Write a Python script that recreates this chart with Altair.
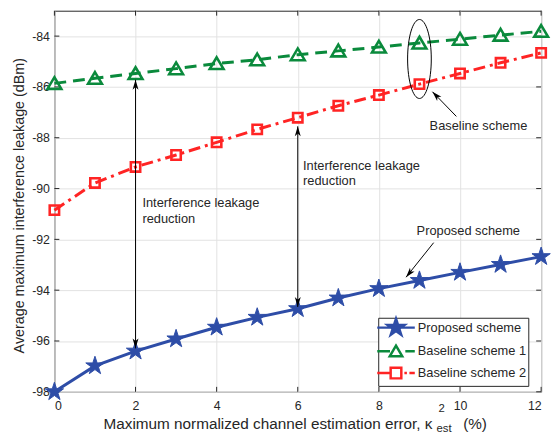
import math
import altair as alt
import pandas as pd

# ---------------- data ----------------
x_vals = list(range(13))
proposed = [-98.0, -96.98, -96.40, -95.92, -95.46, -95.07, -94.73, -94.31, -93.94, -93.62, -93.30, -92.99, -92.68]
baseline1 = [-85.86, -85.66, -85.47, -85.28, -85.08, -84.93, -84.73, -84.58, -84.43, -84.27, -84.12, -83.96, -83.81]
baseline2 = [-90.85, -89.78, -89.15, -88.68, -88.18, -87.67, -87.21, -86.74, -86.32, -85.89, -85.47, -85.05, -84.66]
names = ["Proposed scheme", "Baseline scheme 1", "Baseline scheme 2"]

x_ticks = [0, 2, 4, 6, 8, 10, 12]
y_ticks = [-98, -96, -94, -92, -90, -88, -86, -84]

ann_text = ["Interference leakage", "reduction", "Interference leakage", "reduction",
            "Baseline scheme", "Proposed scheme"]
ann_x = [2.17, 2.17, 6.13, 6.13, 9.25, 8.93]
ann_y = [-90.58, -91.20, -89.10, -89.72, -87.55, -91.67]

arrow_x = [2, 6, 9.91, 9.35]
arrow_y = [-85.72, -87.55, -87.16, -92.13]
arrow_x2 = [2, 6, 9.32, 8.67]
arrow_y2 = [-96.29, -94.66, -86.19, -93.49]

head_x = [2, 2, 6, 6, 9.32, 8.67]
head_y = [-85.72, -96.29, -87.55, -94.66, -86.19, -93.49]
head_angle = [0, 180, 0, 180, 316, 219]

ellipse_x = [9]
ellipse_y = [-84.9]

# ---------------- style ----------------
FONT = "Liberation Sans"
TXT = "#262626"
BLUE = "#2E4DA7"
GREEN = "#0A8A3C"
RED = "#FF2424"


def star_path(cx, r):
    pts = []
    for k in range(10):
        ang = math.radians(-90 + 36 * k)
        rad = r if k % 2 == 0 else r * 0.382
        pts.append((cx + rad * math.cos(ang), rad * math.sin(ang)))
    return "M" + "L".join(f"{px:.3f},{py:.3f}" for px, py in pts) + "Z"


def tri_path(cx, r):
    return f"M{cx:.3f},{-0.9 * r:.3f}L{cx + r:.3f},{0.8 * r:.3f}L{cx - r:.3f},{0.8 * r:.3f}Z"


def sq_path(cx, h):
    return f"M{cx - h:.3f},{-h:.3f}H{cx + h:.3f}V{h:.3f}H{cx - h:.3f}Z"


legend_paths = [
    "M-1.73,0H4.26" + star_path(1.26, 1.42),
    "M-1.73,0H0.3" + tri_path(1.26, 1.0) + "M2.75,0H4.26",
    "M-1.73,0H0.4" + sq_path(1.26, 0.85) + "M2.6,0H3.0M3.4,0H4.26",
]
ARROW = "M0,0L0.45,1.5L0,1.1L-0.45,1.5Z"
ELLIPSE = "M0,-1A0.3,1 0 1,1 0,1A0.3,1 0 1,1 0,-1Z"

# ---------------- tables ----------------
df = pd.DataFrame({
    "x": x_vals * 3,
    "y": proposed + baseline1 + baseline2,
    "series": [names[0]] * 13 + [names[1]] * 13 + [names[2]] * 13,
})
ann_df = pd.DataFrame({"t": ann_text, "x": ann_x, "y": ann_y})
arr_df = pd.DataFrame({"x": arrow_x, "y": arrow_y, "x2": arrow_x2, "y2": arrow_y2})
head_df = pd.DataFrame({"x": head_x, "y": head_y, "a": head_angle})
ell_df = pd.DataFrame({"x": ellipse_x, "y": ellipse_y})

tx = 5 / 41.08
ty = 5 / 25.73
ytick_df = pd.DataFrame(
    [{"x": 0, "x2": tx, "y": v} for v in y_ticks] + [{"x": 12 - tx, "x2": 12, "y": v} for v in y_ticks])
xtick_df = pd.DataFrame(
    [{"x": v, "y": -98, "y2": -98 + ty} for v in x_ticks] + [{"x": v, "y": -83 - ty, "y2": -83} for v in x_ticks])

xs = alt.Scale(domain=[0, 12], nice=False)
ys = alt.Scale(domain=[-98, -83], nice=False, zero=False)

X = alt.X("x:Q", scale=xs, axis=alt.Axis(values=x_ticks, title=None, grid=True, ticks=False, tickSize=0,
                                          domain=False, labelPadding=8, labelExpr="'' + datum.value"))
Y = alt.Y("y:Q", scale=ys, axis=alt.Axis(values=y_ticks, title="Average maximum interference leakage (dBm)",
                                          grid=True, ticks=False, tickSize=0, domain=False, labelPadding=5,
                                          titlePadding=5, titleFontSize=14.5, titleFont=FONT,
                                          titleFontWeight="normal", titleColor=TXT, titleY=197,
                                          labelExpr="'' + datum.value"))

base = alt.Chart(df)

green_line = base.transform_filter(alt.datum.series == names[1]).mark_line(
    color=GREEN, strokeWidth=3, strokeDash=[12, 7]).encode(x=X, y=Y)
red_line = base.transform_filter(alt.datum.series == names[2]).mark_line(
    color=RED, strokeWidth=3, strokeDash=[12, 5, 3, 5]).encode(x=X, y=Y)
blue_line = base.transform_filter(alt.datum.series == names[0]).mark_line(
    color=BLUE, strokeWidth=3).encode(x=X, y=Y)

green_pts = base.transform_filter(alt.datum.series == names[1]).mark_point(
    shape=tri_path(0, 1), size=196, filled=False, stroke=GREEN, strokeWidth=2.6, opacity=1).encode(x=X, y=Y)
red_pts = base.transform_filter(alt.datum.series == names[2]).mark_point(
    shape="square", size=90, filled=False, stroke=RED, strokeWidth=2.6, opacity=1).encode(x=X, y=Y)
blue_pts = base.transform_filter(alt.datum.series == names[0]).mark_point(
    shape=star_path(0, 1), size=380, filled=True, fill=BLUE, stroke=BLUE, strokeWidth=1, opacity=1).encode(x=X, y=Y)

leg = alt.Legend(title=None, orient="none", legendX=328, legendY=311, padding=2, labelOffset=22,
                 rowPadding=0, symbolStrokeWidth=2.5, symbolSize=161, symbolOpacity=1,
                 labelFontSize=13, labelFont=FONT, labelColor=TXT, strokeColor=TXT, fillColor="white")
legend_layer = base.mark_point(filled=True, opacity=0).encode(
    x=X, y=Y,
    shape=alt.Shape("series:N", scale=alt.Scale(domain=names, range=legend_paths), legend=leg),
    fill=alt.Fill("series:N", scale=alt.Scale(domain=names, range=[BLUE, "white", "white"]), legend=leg),
    stroke=alt.Stroke("series:N", scale=alt.Scale(domain=names, range=[BLUE, GREEN, RED]), legend=leg),
)

arrows = alt.Chart(arr_df).mark_rule(color="black", strokeWidth=1).encode(
    x=alt.X("x:Q", scale=xs), y=alt.Y("y:Q", scale=ys), x2="x2:Q", y2="y2:Q")
heads = alt.Chart(head_df).mark_point(shape=ARROW, size=178, filled=True, color="black", opacity=1).encode(
    x=alt.X("x:Q", scale=xs), y=alt.Y("y:Q", scale=ys), angle=alt.Angle("a:Q", scale=None))
ellipse = alt.Chart(ell_df).mark_point(shape=ELLIPSE, size=6400, filled=False, stroke="black",
                                       strokeWidth=1, opacity=1).encode(
    x=alt.X("x:Q", scale=xs), y=alt.Y("y:Q", scale=ys))
ann = alt.Chart(ann_df).mark_text(align="left", baseline="middle", fontSize=13, font=FONT, color=TXT).encode(
    x=alt.X("x:Q", scale=xs), y=alt.Y("y:Q", scale=ys), text="t:N")

yt = alt.Chart(ytick_df).mark_rule(color=TXT, strokeWidth=1).encode(
    x=alt.X("x:Q", scale=xs), x2="x2:Q", y=alt.Y("y:Q", scale=ys))
xt = alt.Chart(xtick_df).mark_rule(color=TXT, strokeWidth=1).encode(
    x=alt.X("x:Q", scale=xs), y=alt.Y("y:Q", scale=ys), y2="y2:Q")


def label(txt, px, py, size, align):
    return alt.Chart(pd.DataFrame({"k": [0]})).mark_text(
        text=txt, align=align, baseline="alphabetic", fontSize=size, font=FONT, color=TXT).encode(
        x=alt.value(px), y=alt.value(py))


xt_main = label("Maximum normalized channel estimation error, κ", 383, 424, 15.5, "right")
xt_sup = label("2", 389, 406, 11.5, "left")
xt_sub = label("est", 387, 427, 11.5, "left")
xt_pct = label("(%)", 414, 424, 15.5, "left")

chart = alt.layer(
    xt, yt,
    green_line, red_line, blue_line,
    green_pts, red_pts, blue_pts,
    legend_layer,
    arrows, heads, ellipse, ann,
    xt_main, xt_sup, xt_sub, xt_pct,
).properties(
    width=493, height=386,
    padding={"left": 47, "top": 0, "right": 10, "bottom": 41},
    autosize=alt.AutoSizeParams(type="none"),
    background="white",
).configure_view(
    stroke=TXT, strokeWidth=1
).configure_axis(
    gridColor="#e2e2e2", gridWidth=1, labelFont=FONT, labelFontSize=12.5, labelColor=TXT
)

chart.save("out.html", embed_options={"renderer": "svg", "actions": False})
